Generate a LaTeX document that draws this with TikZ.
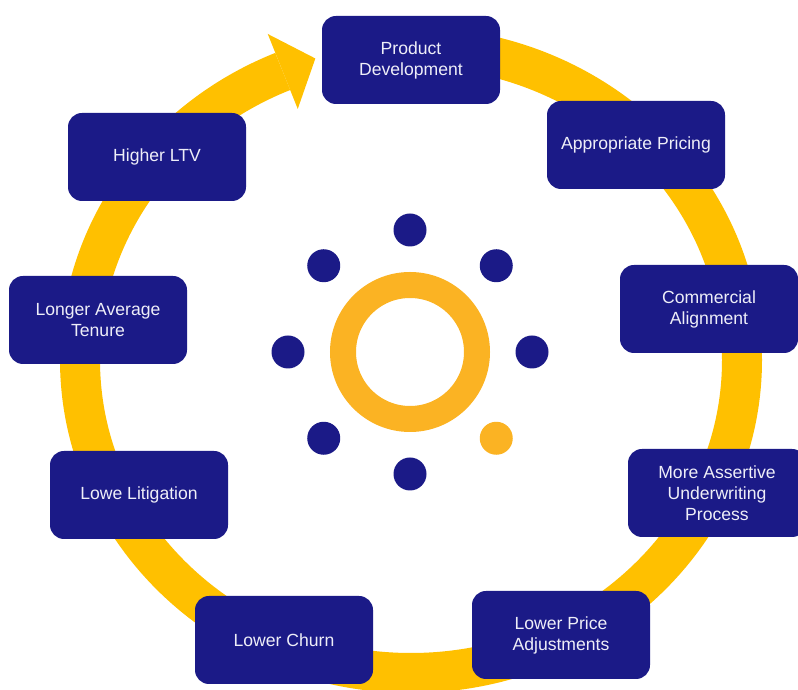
\documentclass[tikz,border=0pt]{standalone}
\usepackage{fontspec}
\setmainfont{Liberation Sans}
\usetikzlibrary{calc}
\definecolor{navy}{HTML}{1B1A87}
\definecolor{gold}{HTML}{FFC000}
\definecolor{amber}{HTML}{FBB323}
\definecolor{paper}{HTML}{EEEEF8}
\begin{document}
\begin{tikzpicture}[x=1pt,y=1pt,
    stage/.style={rectangle,rounded corners=14pt,fill=navy,text=paper,
        minimum width=178pt,minimum height=88pt,align=center,
        font=\fontsize{17.6}{21}\selectfont},
    dot/.style={circle,fill=navy,minimum size=33pt,inner sep=0pt}]
    \useasboundingbox (0,0) rectangle (798,690);
    % big cycle arrow
    \draw[gold,line width=40pt] (411,643) arc[start angle=90,end angle=-247.2,x radius=331,y radius=313] coordinate (tail);
    \fill[gold] ($(tail)+(-15,37.5)$) -- ($(tail)+(32.6,13)$) -- ($(tail)+(15,-37.5)$) -- cycle;
    % stages
    \node[stage] (pd) at (411,630) {Product\\Development};
    \node[stage] (ap) at (636,545) {Appropriate Pricing};
    \node[stage] (ca) at (709,381) {Commercial\\Alignment};
    \node[stage] (ma) at (717,197) {More Assertive\\Underwriting\\Process};
    \node[stage] (lp) at (561,55) {Lower Price\\Adjustments};
    \node[stage] (lc) at (284,50) {Lower Churn};
    \node[stage] (ll) at (139,195) {Lowe Litigation};
    \node[stage] (lt) at (98,370) {Longer Average\\Tenure};
    \node[stage] (hl) at (157,533) {Higher LTV};
    % centre
    \draw[amber,line width=26pt] (410,338) circle[radius=67];
    \foreach \a in {90,45,0,-90,-135,180,135}
        \node[dot] (d\a) at ($(410,338)+(\a:122)$) {};
    \node[dot,fill=amber] (dy) at ($(410,338)+(-45:122)$) {};
\end{tikzpicture}
\end{document}
